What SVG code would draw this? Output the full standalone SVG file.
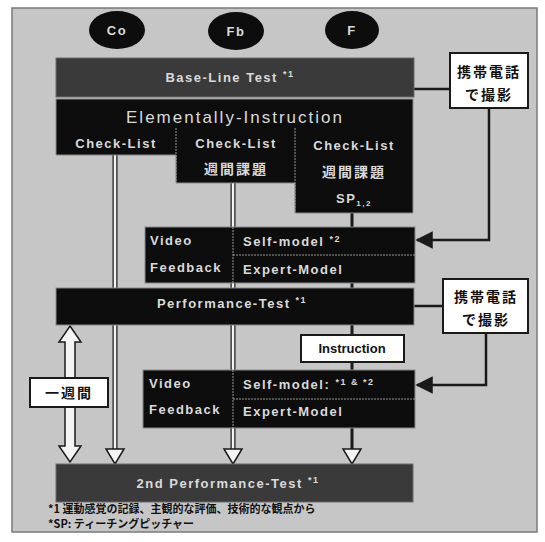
<svg xmlns="http://www.w3.org/2000/svg" width="545" height="542" viewBox="0 0 545 542">
<defs>
<style>
.bg{fill:#c6c6c6;stroke:#7a7a7a;stroke-width:1.5}
.blk{fill:#0d0d0d;stroke:#8a8a8a;stroke-width:1}
.dark{fill:#3a3a3a;stroke:#6a6a6a;stroke-width:1}
.t{fill:#dadada;font-family:"Liberation Sans",Arial,sans-serif;font-weight:bold;font-size:13px;letter-spacing:1.5px}
.jl{fill:#dadada;font-family:"Noto Sans CJK JP",sans-serif;font-weight:bold;font-size:14px;letter-spacing:2px}
.jb{fill:#111;font-family:"Noto Sans CJK JP",sans-serif;font-weight:bold;font-size:14px;letter-spacing:2px}
.wbox{fill:#fff;stroke:#1a1a1a;stroke-width:2}
.sep{stroke:#9a9a9a;stroke-width:1;stroke-dasharray:2 1}
.con{stroke:#1a1a1a;stroke-width:2.5;fill:none}
.shaftO{stroke:#1a1a1a;stroke-width:5;fill:none}
.shaftI{stroke:#f4f4f4;stroke-width:2.5;fill:none}
.head{fill:#f4f4f4;stroke:#1a1a1a;stroke-width:1.5}
.mid{text-anchor:middle}
</style>
<marker id="ah" viewBox="0 0 10 10" refX="9" refY="5" markerWidth="7" markerHeight="7" orient="auto">
<path d="M0,0 L10,5 L0,10 Z" fill="#1a1a1a"/>
</marker>
</defs>

<rect class="bg" x="12" y="8" width="525" height="524"/>

<g id="connectors">
  <line class="shaftO" x1="115" y1="155" x2="115" y2="450"/>
  <line class="shaftI" x1="115" y1="155" x2="115" y2="452"/>
  <polygon class="head" points="106,449 124,449 115,464"/>
  <line class="shaftO" x1="233" y1="183" x2="233" y2="450"/>
  <line class="shaftI" x1="233" y1="183" x2="233" y2="452"/>
  <polygon class="head" points="224,449 242,449 233,464"/>
  <line stroke="#1a1a1a" stroke-width="3" x1="352" y1="213" x2="352" y2="450"/>
  <polygon class="head" points="343,449 361,449 352,464"/>
  <polygon class="head" points="70,326 81,342 75,342 75,446 81,446 70,462 59,446 65,446 65,342 59,342"/>
  <line class="con" x1="413" y1="89" x2="450" y2="89"/>
  <path class="con" d="M489,108 V240 H417" marker-end="url(#ah)"/>
  <line class="con" x1="413" y1="306" x2="443" y2="306"/>
  <path class="con" d="M486,333 V385 H417" marker-end="url(#ah)"/>
</g>

<g id="co">
  <ellipse cx="117" cy="30" rx="28" ry="19" fill="#0d0d0d"/>
  <text class="t mid" x="117" y="35">Co</text>
</g>
<g id="fb">
  <ellipse cx="236" cy="31" rx="28" ry="19" fill="#0d0d0d"/>
  <text class="t mid" x="236" y="36">Fb</text>
</g>
<g id="f">
  <ellipse cx="352" cy="30" rx="27" ry="19" fill="#0d0d0d"/>
  <text class="t mid" x="352" y="35">F</text>
</g>

<g id="baseline">
  <rect class="dark" x="56" y="58" width="358" height="39"/>
  <text class="t mid" x="230" y="82">Base-Line Test <tspan font-size="9" dy="-5">*1</tspan></text>
</g>

<g id="phone1">
  <rect class="wbox" x="450" y="53" width="78" height="55"/>
  <text class="jb mid" x="489" y="77">携帯電話</text>
  <text class="jb mid" x="489" y="100">で撮影</text>
</g>

<g id="elementally">
  <path class="blk" d="M56,99 H413 V213 H295 V183 H176 V155 H56 Z"/>
  <line class="sep" x1="176" y1="128" x2="176" y2="183"/>
  <line class="sep" x1="295" y1="128" x2="295" y2="213"/>
  <text class="t mid" x="235" y="123" style="font-size:17px;font-weight:normal;letter-spacing:2px">Elementally-Instruction</text>
  <text class="t mid" x="116" y="148">Check-List</text>
  <text class="t mid" x="236" y="148">Check-List</text>
  <text class="jl mid" x="236" y="174">週間課題</text>
  <text class="t mid" x="354" y="150">Check-List</text>
  <text class="jl mid" x="354" y="177">週間課題</text>
  <text class="t mid" x="354" y="203">SP<tspan font-size="8" dy="3">1,2</tspan></text>
</g>

<g id="video1">
  <rect class="blk" x="145" y="227" width="270" height="56"/>
  <line class="sep" x1="233" y1="227" x2="233" y2="283"/>
  <line class="sep" x1="233" y1="255" x2="415" y2="255"/>
  <text class="t" x="150" y="245">Video</text>
  <text class="t" x="150" y="272">Feedback</text>
  <text class="t" x="243" y="246">Self-model <tspan font-size="9" dy="-4">*2</tspan></text>
  <text class="t" x="243" y="274">Expert-Model</text>
</g>

<g id="performance">
  <rect class="blk" x="56" y="288" width="358" height="37"/>
  <text class="t mid" x="232" y="308">Performance-Test <tspan font-size="9" dy="-5">*1</tspan></text>
</g>

<g id="phone2">
  <rect class="wbox" x="443" y="279" width="85" height="54"/>
  <text class="jb mid" x="486" y="302">携帯電話</text>
  <text class="jb mid" x="486" y="325">で撮影</text>
</g>

<g id="instruction">
  <rect class="wbox" x="301" y="335" width="103" height="27"/>
  <text class="mid" x="352" y="353" style="font-family:'Liberation Sans',Arial,sans-serif;font-weight:bold;font-size:13px;fill:#111">Instruction</text>
</g>

<g id="video2">
  <rect class="blk" x="143" y="370" width="272" height="58"/>
  <line class="sep" x1="233" y1="370" x2="233" y2="428"/>
  <line class="sep" x1="233" y1="399" x2="415" y2="399"/>
  <text class="t" x="149" y="388">Video</text>
  <text class="t" x="149" y="414">Feedback</text>
  <text class="t" x="243" y="389">Self-model: <tspan font-size="9" dy="-4">*1 &amp; *2</tspan></text>
  <text class="t" x="243" y="416">Expert-Model</text>
</g>

<g id="interval">
  <rect class="wbox" x="30" y="378" width="78" height="29"/>
  <text class="jb mid" x="69" y="398">一週間</text>
</g>

<g id="second-performance">
  <rect class="dark" x="56" y="464" width="357" height="38"/>
  <text class="t mid" x="228" y="488">2nd Performance-Test <tspan font-size="9" dy="-5">*1</tspan></text>
</g>

<g id="notes" style="font-family:'Noto Sans CJK JP',sans-serif;font-weight:bold;font-size:11px;fill:#111">
  <text x="48" y="513">*1 運動感覚の記録、主観的な評価、技術的な観点から</text>
  <text x="48" y="528">*SP: ティーチングピッチャー</text>
</g>
</svg>
